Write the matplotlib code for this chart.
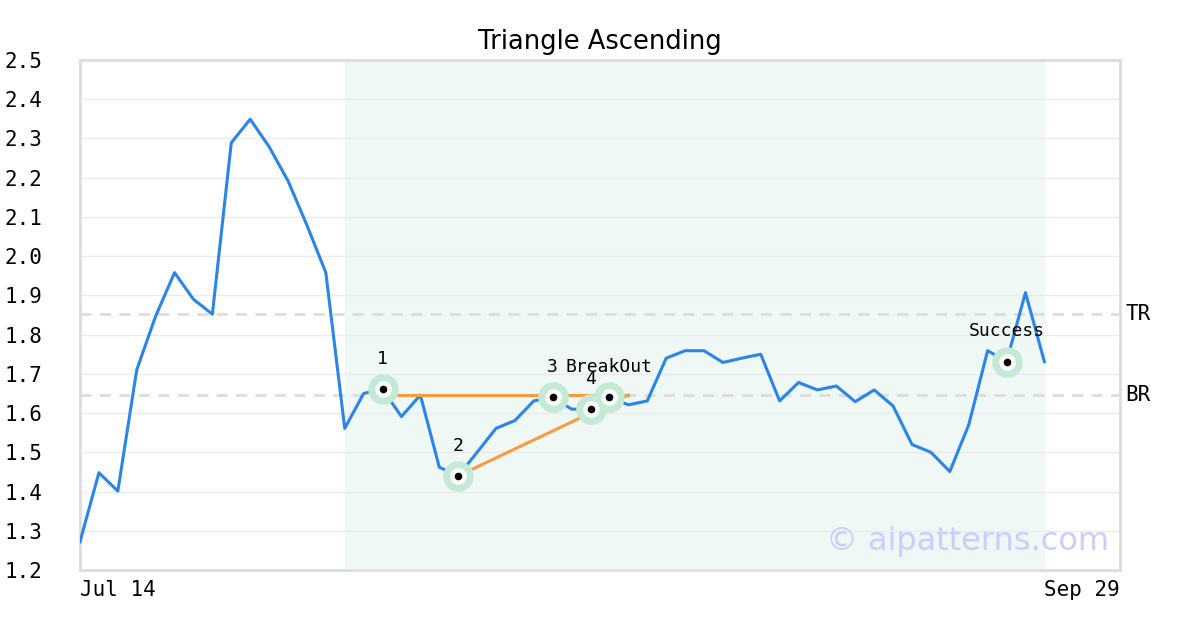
import numpy as np
import matplotlib.pyplot as plt

# dades del gràfic (dies hàbils des del 14 de juliol)
preu = [1.272, 1.448, 1.401, 1.710, 1.847, 1.958, 1.890, 1.852, 2.289, 2.349,
        2.279, 2.192, 2.079, 1.958, 1.561, 1.650, 1.661, 1.591, 1.646, 1.462,
        1.440, 1.500, 1.561, 1.581, 1.631, 1.640, 1.610, 1.610, 1.640, 1.621,
        1.631, 1.740, 1.759, 1.759, 1.729, 1.740, 1.750, 1.631, 1.678, 1.659,
        1.669, 1.629, 1.659, 1.618, 1.520, 1.500, 1.451, 1.570, 1.759, 1.731,
        1.907, 1.731]
x = np.arange(len(preu))

punts_idx = [16, 20, 25, 27, 28, 49]
punts_txt = ['1', '2', '3', '4', 'BreakOut', 'Success']

tr = 1.852   # resistència
br = 1.646   # suport
zona = (14, 51)          # zona del patró
linia_h = ([16, 29], [1.646, 1.646])   # línia superior del triangle
linia_d = ([20, 29], [1.440, 1.646])   # línia inferior del triangle

ticks_x = [0, 55]
etiq_x = ['Jul 14', 'Sep 29']
ticks_y = np.round(np.arange(1.2, 2.51, 0.1), 1)

mono = 'DejaVu Sans Mono'

fig = plt.figure(figsize=(12, 6.3), dpi=100)
ax = fig.add_axes([80/1200, 60/630, 1040/1200, 510/630])

ax.axvspan(zona[0], zona[1], color='#eff8f4', zorder=0)
for v in ticks_y:
    ax.axhline(v, color='#ebebeb', lw=1, zorder=1)
ax.axhline(tr, color='#dddddd', lw=2, ls=(0, (4, 3)), zorder=1)
ax.axhline(br, color='#dddddd', lw=2, ls=(0, (4, 3)), zorder=1)

ax.plot(x, preu, color='#2a85e8', lw=2.2, zorder=3)
ax.plot(linia_h[0], linia_h[1], color='#f99c40', lw=2.2, zorder=4)
ax.plot(linia_d[0], linia_d[1], color='#f99c40', lw=2.2, zorder=4)

px = [x[i] for i in punts_idx]
py = [preu[i] for i in punts_idx]
ax.plot(px, py, 'o', ms=22, color='#c4ead6', mec='none', zorder=5)
ax.plot(px, py, 'o', ms=12, color='white', mec='none', zorder=6)
ax.plot(px, py, 'o', ms=5.5, color='black', mec='none', zorder=7)
for xi, yi, t in zip(px, py, punts_txt):
    ax.text(xi, yi + 0.077, t, ha='center', va='center', fontsize=13,
            family=mono, zorder=8)

ax.text(1.005, tr, 'TR', transform=ax.get_yaxis_transform(), ha='left',
        va='center', fontsize=15, family=mono)
ax.text(1.005, br, 'BR', transform=ax.get_yaxis_transform(), ha='left',
        va='center', fontsize=15, family=mono)

ax.text(0.99, 0.055, '© aipatterns.com', transform=ax.transAxes, ha='right',
        va='center', fontsize=23, color='#ccccff', zorder=9)

ax.set_xlim(0, 55)
ax.set_ylim(1.2, 2.5)
ax.set_yticks(ticks_y)
ax.set_yticklabels([f'{v:.1f}' for v in ticks_y], family=mono, fontsize=15)
ax.set_xticks(ticks_x)
lab = ax.set_xticklabels(etiq_x, family=mono, fontsize=15)
lab[0].set_ha('left')
lab[1].set_ha('right')
ax.tick_params(axis='y', length=0, pad=27)
ax.tick_params(axis='x', length=0, pad=7)
for s in ax.spines.values():
    s.set_color('#dddddd')
    s.set_linewidth(2)

ax.set_title('Triangle Ascending', fontsize=18.5, pad=8)

fig.savefig('out.png')
